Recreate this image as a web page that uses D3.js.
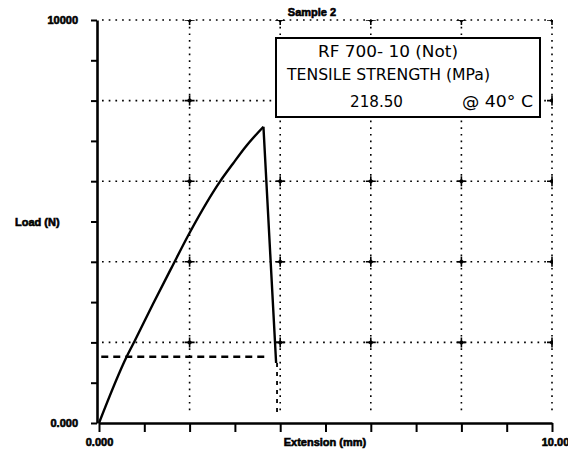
<!DOCTYPE html>
<html><head><meta charset="utf-8">
<script src="https://cdn.jsdelivr.net/npm/d3@7/dist/d3.min.js"></script>
<style>body{margin:0;background:#fff}svg{display:block}</style>
</head><body>
<svg id="c" width="568" height="455"></svg>
<script>
// ---- data ----
const riseExt  = [0, 0.61, 0.79, 1.20, 1.60, 2.01, 2.67, 2.96, 3.22, 3.63];
const riseLoad = [0, 1645, 2042, 2970, 3850, 4740, 5990, 6440, 6830, 7351];
const dropCurveExt  = [3.63, 3.78, 3.91];
const dropCurveLoad = [7351, 4200, 1489];
const breakExt  = [0.05, 3.73];      // horizontal dashed (load at break)
const breakLoad = [1645, 1645];
const dropExt   = [3.93, 3.93];      // vertical dashed
const dropLoad  = [1489, 200];
const xTicks = [0,1,2,3,4,5,6,7,8,9,10];
const yTicks = [0,1000,2000,3000,4000,5000,6000,7000,8000,9000,10000];
const xGrid = [2,4,6,8,10];
const yGrid = [2000,4000,6000,8000,10000];
const xTickLabels = {0:"0.000", 10:"10.00"};
const yTickLabels = {0:"0.000", 10000:"10000"};
const title = "Sample 2";
const xTitle = "Extension (mm)";
const yTitle = "Load (N)";
const legendLines = ["RF 700- 10 (Not)", "TENSILE STRENGTH (MPa)"];
const legendValue = "218.50";
const legendTemp = "@ 40° C";

// ---- chart ----
const svg = d3.select("#c");
const x = d3.scaleLinear().domain([0,10]).range([99,552]);
const y = d3.scaleLinear().domain([0,10000]).range([423,20]);

svg.append("defs").append("clipPath").attr("id","pc")
  .append("rect").attr("x",x(0)).attr("y",y(10000)).attr("width",x(10)-x(0)+1).attr("height",y(0)-y(10000));

const grid = svg.append("g").attr("stroke","#000").attr("stroke-width",1.6).attr("stroke-dasharray","1.7,5");
grid.selectAll("line.h").data(yGrid).join("line").attr("class","h")
  .attr("x1",x(0)+3).attr("x2",x(10)).attr("y1",d=>y(d)).attr("y2",d=>y(d));
grid.selectAll("line.v").data(xGrid).join("line").attr("class","v")
  .attr("x1",d=>x(d)).attr("x2",d=>x(d)).attr("y1",y(10000)).attr("y2",y(0)-9);

const pts = [];
xGrid.forEach(gx=>yGrid.forEach(gy=>pts.push([gx,gy])));
const mk = svg.append("g").attr("clip-path","url(#pc)");
mk.selectAll("path").data(pts).join("path")
  .attr("transform",d=>`translate(${x(d[0])},${y(d[1])})`)
  .attr("d","M-5,0L5,0M0,-5L0,5")
  .attr("stroke","#000").attr("stroke-width",1.6);
mk.selectAll("path.d").data(pts).join("path").attr("class","d")
  .attr("transform",d=>`translate(${x(d[0])},${y(d[1])})`)
  .attr("d","M-3,0L0,-2.5L3,0L0,2.5Z").attr("fill","#000");

// legend box
const lg = svg.append("g");
lg.append("rect").attr("x",276).attr("y",38).attr("width",264).attr("height",79)
  .attr("fill","#fff").attr("stroke","#000").attr("stroke-width",2);
const lf = "'DejaVu Sans', sans-serif";
lg.append("text").attr("x",318).attr("y",57).attr("font-family",lf).attr("font-size",15)
  .attr("textLength",140).attr("lengthAdjust","spacingAndGlyphs").text(legendLines[0]);
lg.append("text").attr("x",287).attr("y",80).attr("font-family",lf).attr("font-size",16)
  .attr("textLength",203).attr("lengthAdjust","spacingAndGlyphs").text(legendLines[1]);
lg.append("text").attr("x",350).attr("y",107).attr("font-family",lf).attr("font-size",16)
  .attr("textLength",53).attr("lengthAdjust","spacingAndGlyphs").text(legendValue);
lg.append("text").attr("x",462).attr("y",107).attr("font-family",lf).attr("font-size",16)
  .attr("textLength",71).attr("lengthAdjust","spacingAndGlyphs").text(legendTemp);

// curve
const smooth = d3.line().x(d=>x(d[0])).y(d=>y(d[1])).curve(d3.curveMonotoneX);
const line = d3.line().x(d=>x(d[0])).y(d=>y(d[1]));
svg.append("path").datum(riseExt.map((e,i)=>[e,riseLoad[i]]))
  .attr("d",smooth).attr("fill","none").attr("stroke","#000").attr("stroke-width",2.4).attr("stroke-linejoin","round");
svg.append("path").datum(dropCurveExt.map((e,i)=>[e,dropCurveLoad[i]]))
  .attr("d",line).attr("fill","none").attr("stroke","#000").attr("stroke-width",2.4).attr("stroke-linejoin","round");
svg.append("path").datum(breakExt.map((e,i)=>[e,breakLoad[i]]))
  .attr("d",line).attr("fill","none").attr("stroke","#000").attr("stroke-width",2.6).attr("stroke-dasharray","7,5");
svg.append("path").datum(dropExt.map((e,i)=>[e,dropLoad[i]]))
  .attr("d",line).attr("fill","none").attr("stroke","#000").attr("stroke-width",1.8).attr("stroke-dasharray","4,5");

// axes
const af = "'Liberation Sans', Arial, sans-serif";
const xa = svg.append("g").attr("transform",`translate(0,${y(0)})`)
  .call(d3.axisBottom(x).tickValues(xTicks).tickSize(9).tickSizeOuter(0).tickPadding(6)
    .tickFormat(d=>xTickLabels[d]||""));
const ya = svg.append("g").attr("transform",`translate(${x(0)-2},0)`)
  .call(d3.axisLeft(y).tickValues(yTicks).tickSize(6).tickSizeOuter(0).tickPadding(13)
    .tickFormat(d=>yTickLabels[d]||""));
[xa,ya].forEach(a=>{
  a.select(".domain").attr("stroke","#000").attr("stroke-width",2.6);
  a.selectAll(".tick line").attr("stroke","#000").attr("stroke-width",2);
  a.selectAll("text").attr("font-family",af).attr("font-size",11).attr("font-weight","bold")
    .attr("fill","#000").attr("stroke","#000").attr("stroke-width",0.6);
});
xa.selectAll(".tick").filter(d=>d===10).select("text").attr("dx",3);

const tt = (t,xx,yy,anchor)=>svg.append("text").attr("x",xx).attr("y",yy).attr("text-anchor",anchor)
  .attr("font-family",af).attr("font-size",11).attr("font-weight","bold")
  .attr("stroke","#000").attr("stroke-width",0.6).text(t);
tt(title,312,16,"middle");
tt(xTitle,325,446,"middle");
tt(yTitle,15,226,"start");
</script>
</body></html>
